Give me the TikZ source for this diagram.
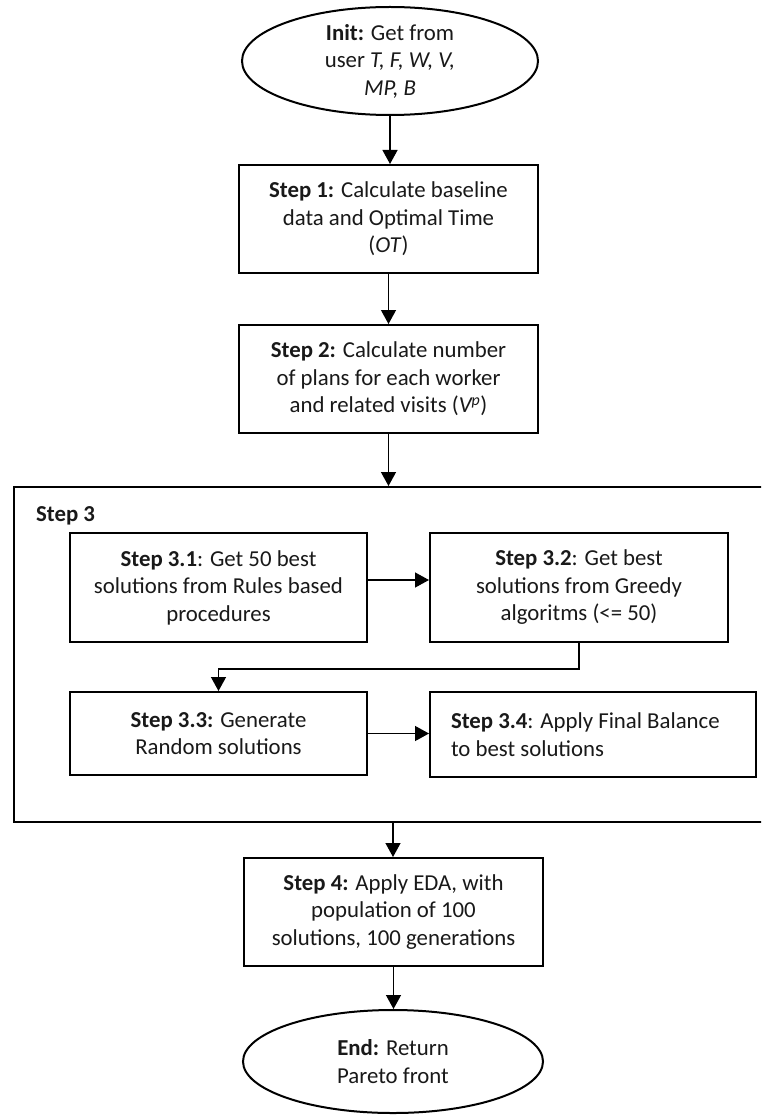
\documentclass[tikz,border=0pt]{standalone}
\usepackage{fontspec}
\setmainfont{Carlito}
\usetikzlibrary{arrows.meta,shapes.geometric}
\begin{document}
\begin{tikzpicture}[x=1pt,y=-1pt,
  font=\fontsize{22.8}{27.5}\selectfont,
  every node/.style={text=black!90},
  stepbox/.style={draw, line width=2pt, rectangle, inner sep=0pt, align=center},
  termbox/.style={draw, line width=2pt, ellipse, inner sep=-30pt, align=center},
  groupbox/.style={draw, line width=2pt, rectangle, inner sep=0pt},
  conn/.style={line width=1.3pt, -{Triangle[width=15pt,length=14pt]}}
]
\fill[white] (0,0) rectangle (761,1115);
\useasboundingbox (0,0) rectangle (761,1115);
\clip (0,0) rectangle (761,1115);

% terminals and main steps
\node[termbox, minimum width=296pt, minimum height=108pt] (init) at (390,61)
  {\textbf{Init:} Get from\\ user \textit{T, F, W, V,}\\ \textit{MP, B}};
\node[stepbox, minimum width=299pt, minimum height=108pt] (s1) at (388.5,219)
  {\textbf{Step 1:} Calculate baseline\\ data and Optimal Time\\ (\textit{OT})};
\node[stepbox, minimum width=299pt, minimum height=108pt] (s2) at (388.5,379)
  {\textbf{Step 2:} Calculate number\\ of plans for each worker\\ and related visits (\textit{V\textsuperscript{p}})};

% group of sub-steps
\node[groupbox, minimum width=758pt, minimum height=335pt] (outer) at (393,654.5) {};
\node[anchor=base west, inner sep=0pt] (lbl) at (36,521) {\textbf{Step 3}};
\node[stepbox, minimum width=297pt, minimum height=109pt] (s31) at (218.5,587.5)
  {\textbf{Step 3.1}: Get 50 best\\ solutions from Rules based\\ procedures};
\node[stepbox, minimum width=298pt, minimum height=109pt] (s32) at (579,587.5)
  {\textbf{Step 3.2}: Get best\\ solutions from Greedy\\ algoritms (<= 50)};
\node[stepbox, minimum width=297pt, minimum height=83pt] (s33) at (218.5,733.5)
  {\textbf{Step 3.3:} Generate\\ Random solutions};
\node[stepbox, minimum width=326pt, minimum height=85pt, align=flush left,
      text width=284pt, inner xsep=21pt] (s34) at (593,734.5)
  {\textbf{Step 3.4}: Apply Final Balance\\ to best solutions};

\node[stepbox, minimum width=299pt, minimum height=108pt] (s4) at (393.5,912)
  {\textbf{Step 4:} Apply EDA, with\\ population of 100\\ solutions, 100 generations};
\node[termbox, minimum width=300pt, minimum height=103pt] (end) at (393,1061.5)
  {\textbf{End:} Return\\ Pareto front};

% connectors
\draw[conn] (init.south) -- (init.south |- s1.north);
\draw[conn] (s1.south) -- (s1.south |- s2.north);
\draw[conn] (s2.south) -- (s2.south |- outer.north);
\draw[conn] ([yshift=7.5pt]s31.east) -- ([yshift=7.5pt]s31.east -| s32.west);
\draw[conn] (s32.south) -- ++(0,26) -| (s33.north);
\draw[conn] (s33.east) -- (s33.east -| s34.west);
\draw[conn] (outer.south) -- (outer.south |- s4.north);
\draw[conn] (s4.south) -- (s4.south |- end.north);
\end{tikzpicture}
\end{document}
